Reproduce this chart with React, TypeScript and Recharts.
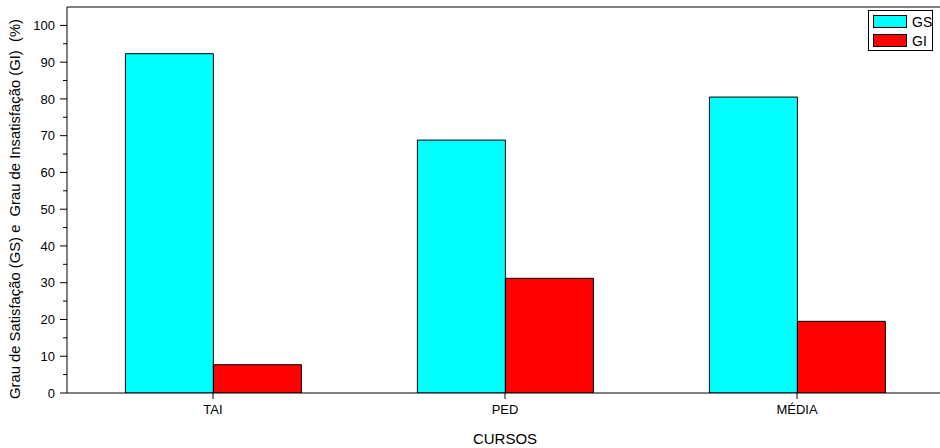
import React from 'react';
import { BarChart, Bar, XAxis, YAxis, ReferenceLine, Legend } from 'recharts';

const categories = ['TAI', 'PED', 'MÉDIA'];
const gsValues = [92.3, 68.8, 80.5];
const giValues = [7.7, 31.2, 19.5];
const yAllTicks = [0, 5, 10, 15, 20, 25, 30, 35, 40, 45, 50, 55, 60, 65, 70, 75, 80, 85, 90, 95, 100];
const yMajorTicks = [0, 10, 20, 30, 40, 50, 60, 70, 80, 90, 100];
const seriesNames = ['GS', 'GI'];
const seriesColors = ['#00FFFF', '#FF0000'];

const data = categories.map((c, i) => ({ curso: c, GS: gsValues[i], GI: giValues[i] }));

const FONT = '"Liberation Sans", Arial, sans-serif';

const LeftTick = (props: any) => {
  const { x, y, payload } = props;
  const v = payload.value;
  const major = v % 10 === 0;
  const axisX = x + 12;
  return (
    <g>
      <line x1={axisX - (major ? 7 : 4)} x2={axisX} y1={y} y2={y} stroke="#000" strokeWidth={1} />
      {major && (
        <text x={x} y={y} dy="0.36em" textAnchor="end" fontSize={13} fill="#000" fontFamily={FONT}>
          {v}
        </text>
      )}
    </g>
  );
};

const RightTick = (props: any) => {
  const { x, y } = props;
  return <line x1={x - 8} x2={x} y1={y} y2={y} stroke="#000" strokeWidth={1} />;
};

const LegendBox = () => (
  <div
    style={{
      border: '1px solid #000',
      background: '#fff',
      width: 65,
      height: 41,
      boxSizing: 'border-box',
      paddingTop: 1,
      fontFamily: FONT,
      fontSize: 14,
      lineHeight: 1,
      color: '#000',
    }}
  >
    {seriesNames.map((n, i) => (
      <div key={n} style={{ display: 'flex', alignItems: 'center', height: 19 }}>
        <div
          style={{
            marginLeft: 4,
            width: 34,
            height: 13,
            boxSizing: 'border-box',
            border: '1px solid #000',
            background: seriesColors[i],
            flexShrink: 0,
          }}
        />
        <span style={{ marginLeft: 5, whiteSpace: 'nowrap' }}>{n}</span>
      </div>
    ))}
  </div>
);

const YLabel = (props: any) => {
  const { viewBox } = props;
  const cx = 20;
  const cy = viewBox.y + viewBox.height / 2 + 9;
  return (
    <text
      x={cx}
      y={cy}
      transform={`rotate(-90, ${cx}, ${cy})`}
      textAnchor="middle"
      fontSize={14.8}
      fill="#000"
      fontFamily={FONT}
    >
      {'Grau de Satisfação (GS) e\u00a0 Grau de Insatisfação (GI)\u00a0 (%)'}
    </text>
  );
};

const XLabel = (props: any) => {
  const { viewBox } = props;
  return (
    <text
      x={viewBox.x + viewBox.width / 2}
      y={viewBox.y + 51}
      textAnchor="middle"
      fontSize={15}
      fill="#000"
      fontFamily={FONT}
    >
      CURSOS
    </text>
  );
};

export default function App() {
  return (
    <div
      style={{
        position: 'absolute',
        left: 0,
        top: 0,
        width: 940,
        height: 448,
        overflow: 'hidden',
        background: '#fff',
        fontFamily: FONT,
      }}
    >
      <BarChart
        width={960}
        height={448}
        data={data}
        margin={{ top: 7, right: 17, bottom: 0, left: 0 }}
        barCategoryGap="20%"
        barGap={0}
      >
        <XAxis
          dataKey="curso"
          xAxisId="x"
          height={55}
          tickSize={6}
          tickMargin={6}
          tick={{ fill: '#000', fontSize: 13, fontFamily: FONT }}
          tickLine={{ stroke: '#000' }}
          axisLine={{ stroke: '#000' }}
          label={{ content: XLabel }}
        />
        <YAxis
          yAxisId="left"
          orientation="left"
          width={67}
          domain={[0, 105]}
          ticks={yAllTicks}
          interval={0}
          tickSize={0}
          tickMargin={12}
          tickLine={false}
          tick={LeftTick}
          axisLine={{ stroke: '#000' }}
          allowDataOverflow
          label={{ content: YLabel }}
        />
        <YAxis
          yAxisId="right"
          orientation="right"
          width={0}
          domain={[0, 105]}
          ticks={yMajorTicks}
          interval={0}
          tickSize={0}
          tickMargin={0}
          tickLine={false}
          tick={RightTick}
          axisLine={{ stroke: '#000' }}
          allowDataOverflow
        />
        <ReferenceLine yAxisId="left" xAxisId="x" y={105} stroke="#000" strokeWidth={1} ifOverflow="visible" />
        <Legend
          layout="vertical"
          align="center"
          verticalAlign="middle"
          content={LegendBox}
          wrapperStyle={{ left: 868, top: 10, width: 'auto', height: 'auto' }}
        />
        <Bar
          dataKey="GS"
          name="GS"
          xAxisId="x"
          yAxisId="left"
          fill={seriesColors[0]}
          stroke="#000"
          strokeWidth={1}
          isAnimationActive={false}
        />
        <Bar
          dataKey="GI"
          name="GI"
          xAxisId="x"
          yAxisId="left"
          fill={seriesColors[1]}
          stroke="#000"
          strokeWidth={1}
          isAnimationActive={false}
        />
      </BarChart>
    </div>
  );
}
